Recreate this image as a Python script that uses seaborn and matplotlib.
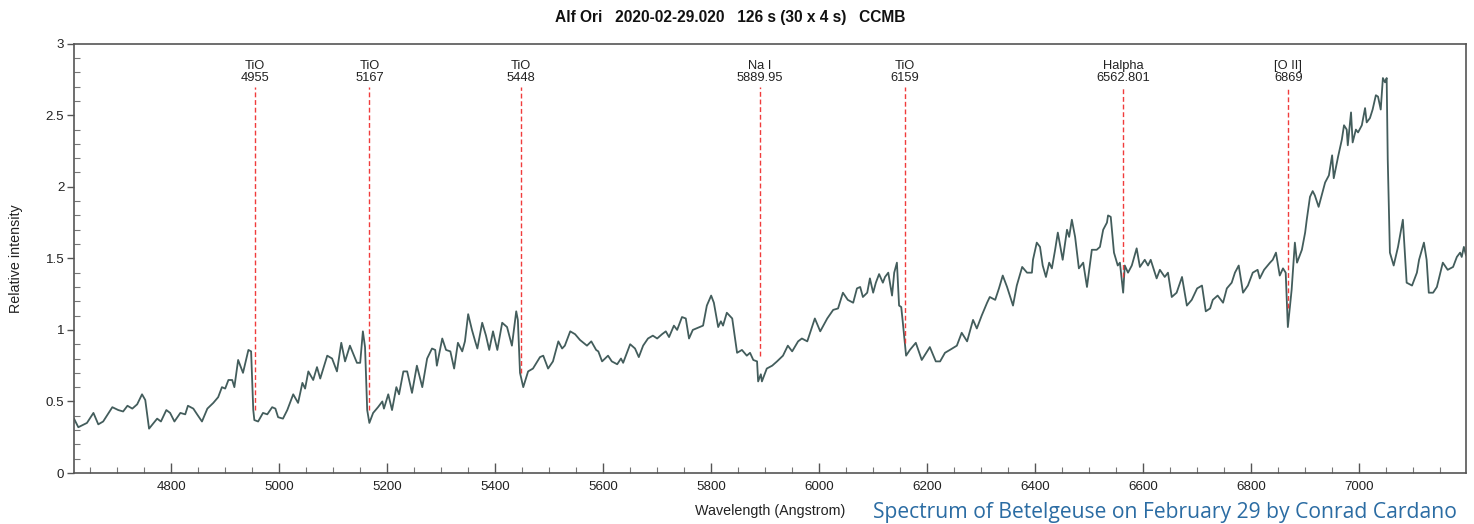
import numpy as np
import pandas as pd
import matplotlib
matplotlib.use("Agg")
import matplotlib.pyplot as plt
from matplotlib.ticker import MultipleLocator
import seaborn as sns

# Spectrum (wavelength in Angstrom, relative intensity)
wavelength = [
    4620, 4628, 4644, 4656, 4665, 4674, 4691, 4702, 4711, 4719, 4728, 4737, 4746, 4752, 4759,
    4774, 4781, 4791, 4798, 4806, 4817, 4826, 4831, 4841, 4848, 4857, 4867, 4878, 4887, 4894,
    4900, 4906, 4913, 4917, 4924, 4933, 4943, 4948, 4952, 4954, 4961, 4970, 4978, 4987, 4993,
    4998, 5007, 5015, 5026, 5035, 5043, 5048, 5054, 5063, 5070, 5076, 5089, 5098, 5107, 5115,
    5122, 5131, 5144, 5150, 5155, 5159, 5163, 5167, 5174, 5183, 5191, 5194, 5202, 5209, 5217,
    5222, 5230, 5237, 5246, 5255, 5265, 5274, 5283, 5289, 5292, 5302, 5309, 5317, 5324, 5331,
    5339, 5344, 5350, 5357, 5363, 5367, 5376, 5383, 5389, 5396, 5404, 5413, 5422, 5431, 5439,
    5442, 5446, 5452, 5461, 5470, 5483, 5489, 5498, 5507, 5517, 5524, 5529, 5539, 5548, 5557,
    5570, 5578, 5587, 5591, 5598, 5609, 5616, 5626, 5633, 5637, 5650, 5659, 5666, 5674, 5683,
    5692, 5700, 5709, 5716, 5722, 5731, 5737, 5746, 5753, 5759, 5766, 5779, 5785, 5792, 5800,
    5805, 5813, 5818, 5822, 5829, 5839, 5848, 5857, 5866, 5872, 5878, 5885, 5887, 5892, 5894,
    5903, 5913, 5922, 5933, 5942, 5950, 5961, 5968, 5978, 5992, 6002, 6015, 6026, 6035, 6044,
    6053, 6063, 6070, 6076, 6081, 6089, 6094, 6100, 6105, 6111, 6118, 6122, 6128, 6135, 6139,
    6144, 6148, 6152, 6155, 6161, 6168, 6179, 6190, 6205, 6216, 6224, 6233, 6242, 6255, 6264,
    6274, 6285, 6292, 6301, 6311, 6316, 6326, 6333, 6340, 6348, 6359, 6366, 6376, 6385, 6394,
    6396, 6403, 6409, 6414, 6420, 6426, 6431, 6437, 6442, 6451, 6459, 6463, 6468, 6474, 6481,
    6489, 6496, 6505, 6514, 6520, 6526, 6533, 6535, 6540, 6546, 6553, 6557, 6563, 6566, 6572,
    6579, 6588, 6594, 6603, 6609, 6614, 6625, 6631, 6640, 6646, 6653, 6662, 6672, 6681, 6690,
    6700, 6709, 6716, 6724, 6729, 6738, 6748, 6755, 6764, 6770, 6777, 6785, 6794, 6803, 6812,
    6816, 6824, 6835, 6840, 6846, 6853, 6859, 6864, 6868, 6875, 6881, 6885, 6894, 6900, 6903,
    6909, 6914, 6918, 6925, 6937, 6944, 6950, 6953, 6961, 6968, 6972, 6977, 6979, 6985, 6988,
    6994, 6998, 7005, 7011, 7014, 7020, 7025, 7031, 7035, 7040, 7044, 7048, 7051, 7053, 7057,
    7064, 7072, 7081, 7088, 7098, 7107, 7111, 7120, 7125, 7129, 7137, 7144, 7155, 7164, 7174,
    7181, 7187, 7190, 7194, 7198,
]
intensity = [
    0.38, 0.32, 0.35, 0.42, 0.34, 0.36, 0.46, 0.44, 0.43, 0.47, 0.45, 0.48, 0.55, 0.51, 0.31,
    0.38, 0.36, 0.44, 0.42, 0.36, 0.42, 0.41, 0.47, 0.45, 0.41, 0.36, 0.45, 0.49, 0.53, 0.60,
    0.59, 0.65, 0.65, 0.60, 0.79, 0.70, 0.86, 0.85, 0.44, 0.37, 0.36, 0.42, 0.41, 0.46, 0.45,
    0.39, 0.38, 0.44, 0.55, 0.49, 0.63, 0.59, 0.71, 0.65, 0.74, 0.66, 0.82, 0.80, 0.71, 0.91,
    0.78, 0.89, 0.77, 0.77, 0.99, 0.88, 0.44, 0.35, 0.42, 0.46, 0.50, 0.45, 0.55, 0.44, 0.60,
    0.55, 0.71, 0.71, 0.56, 0.75, 0.60, 0.80, 0.87, 0.86, 0.75, 0.94, 0.86, 0.85, 0.73, 0.91,
    0.85, 0.92, 1.11, 1.00, 0.92, 0.87, 1.05, 0.96, 0.86, 0.99, 0.86, 1.05, 1.02, 0.89, 1.13,
    1.07, 0.70, 0.60, 0.71, 0.73, 0.81, 0.82, 0.73, 0.78, 0.92, 0.87, 0.89, 0.99, 0.97, 0.93,
    0.89, 0.92, 0.86, 0.85, 0.78, 0.82, 0.78, 0.76, 0.80, 0.77, 0.90, 0.87, 0.81, 0.89, 0.94,
    0.96, 0.94, 0.97, 0.99, 0.95, 1.03, 1.00, 1.09, 1.08, 0.94, 1.00, 1.02, 1.03, 1.17, 1.24,
    1.19, 1.02, 1.06, 1.03, 1.12, 1.08, 0.84, 0.86, 0.82, 0.84, 0.79, 0.78, 0.64, 0.69, 0.64,
    0.73, 0.75, 0.78, 0.82, 0.89, 0.85, 0.92, 0.94, 0.92, 1.08, 0.99, 1.08, 1.14, 1.15, 1.26,
    1.21, 1.19, 1.29, 1.30, 1.23, 1.26, 1.36, 1.26, 1.33, 1.39, 1.33, 1.37, 1.40, 1.24, 1.40,
    1.47, 1.17, 1.16, 1.05, 0.82, 0.86, 0.91, 0.79, 0.88, 0.78, 0.78, 0.84, 0.86, 0.89, 0.98,
    0.92, 1.07, 1.01, 1.10, 1.19, 1.23, 1.21, 1.29, 1.38, 1.30, 1.17, 1.31, 1.44, 1.40, 1.40,
    1.49, 1.61, 1.58, 1.45, 1.37, 1.47, 1.43, 1.56, 1.68, 1.49, 1.70, 1.65, 1.77, 1.65, 1.43,
    1.47, 1.30, 1.56, 1.56, 1.58, 1.70, 1.75, 1.80, 1.79, 1.54, 1.45, 1.47, 1.26, 1.45, 1.40,
    1.45, 1.57, 1.44, 1.49, 1.45, 1.49, 1.36, 1.42, 1.37, 1.40, 1.23, 1.26, 1.37, 1.17, 1.21,
    1.29, 1.31, 1.13, 1.15, 1.21, 1.24, 1.19, 1.29, 1.33, 1.40, 1.45, 1.26, 1.31, 1.40, 1.42,
    1.36, 1.42, 1.47, 1.49, 1.54, 1.38, 1.43, 1.40, 1.02, 1.28, 1.61, 1.47, 1.56, 1.68, 1.77,
    1.93, 1.97, 1.94, 1.86, 2.03, 2.08, 2.22, 2.06, 2.21, 2.33, 2.43, 2.40, 2.29, 2.52, 2.31,
    2.40, 2.38, 2.43, 2.55, 2.45, 2.48, 2.54, 2.64, 2.63, 2.54, 2.76, 2.73, 2.76, 2.19, 1.54,
    1.45, 1.58, 1.77, 1.33, 1.31, 1.40, 1.49, 1.61, 1.49, 1.26, 1.26, 1.30, 1.47, 1.42, 1.44,
    1.51, 1.54, 1.51, 1.58, 1.52,
]

# Marked lines
line_names = ["TiO", "TiO", "TiO", "Na I", "TiO", "Halpha", "[O II]"]
line_labels = ["4955", "5167", "5448", "5889.95", "6159", "6562.801", "6869"]
line_pos = [4955, 5167, 5448, 5889.95, 6159, 6562.801, 6869]
line_bottom = [0.44, 0.44, 0.70, 0.82, 0.91, 1.37, 1.15]
line_top = 2.70

df = pd.DataFrame({"Wavelength": wavelength, "Intensity": intensity})

sns.set_style("ticks")
plt.rcParams["font.family"] = ["Liberation Sans", "DejaVu Sans"]

fig = plt.figure(figsize=(14.74, 5.24), dpi=100)
ax = fig.add_axes([0.0502, 0.0973, 0.9444, 0.8193])

sns.lineplot(data=df, x="Wavelength", y="Intensity", ax=ax, sort=False,
             estimator=None, color="#435d5c", lw=1.3)

for name, lab, pos, bot in zip(line_names, line_labels, line_pos, line_bottom):
    ax.plot([pos, pos], [bot, line_top], color="#f03c3c", lw=1.0,
            dashes=(3.5, 2))
    ax.text(pos, line_top + 0.02, f"{name}\n{lab}", ha="center", va="bottom",
            fontsize=9.3, color="#222222", linespacing=0.95)

ax.set_xlim(4620, 7198)
ax.set_ylim(0, 3)
ax.xaxis.set_major_locator(MultipleLocator(200))
ax.xaxis.set_minor_locator(MultipleLocator(50))
ax.yaxis.set_major_locator(MultipleLocator(0.5))
ax.yaxis.set_minor_locator(MultipleLocator(0.1))
ax.set_yticks([0, 0.5, 1, 1.5, 2, 2.5, 3])
ax.set_yticklabels(["0", "0.5", "1", "1.5", "2", "2.5", "3"])
ax.tick_params(axis="x", which="major", direction="in", length=7, width=1,
               labelsize=9.6, color="#555555", labelcolor="#222222", pad=6)
ax.tick_params(axis="x", which="minor", direction="in", length=4, width=0.8,
               color="#777777")
ax.tick_params(axis="y", which="major", direction="out", length=5, width=1,
               labelsize=9.6, color="#555555", labelcolor="#222222", pad=2)
ax.tick_params(axis="y", which="minor", direction="in", length=4, width=0.8,
               color="#777777")
for side in ["left", "right", "top", "bottom"]:
    ax.spines[side].set_visible(True)
    ax.spines[side].set_color("#555555")
    ax.spines[side].set_linewidth(1.2)

ax.set_xlabel("Wavelength (Angstrom)", fontsize=10.3, color="#222222", labelpad=8)
ax.set_ylabel("Relative intensity", fontsize=10.3, color="#222222", labelpad=16)

fig.text(0.4953, 0.967, "Alf Ori   2020-02-29.020   126 s (30 x 4 s)   CCMB",
         ha="center", va="center", fontsize=11.2, fontweight="bold", color="#111111")
fig.text(0.592, 0.002, "Spectrum of Betelgeuse on February 29 by Conrad Cardano",
         ha="left", va="bottom", fontsize=15.2, color="#2b6ca3",
         family=["Open Sans", "DejaVu Sans"])

plt.savefig("out.png", dpi=100)
